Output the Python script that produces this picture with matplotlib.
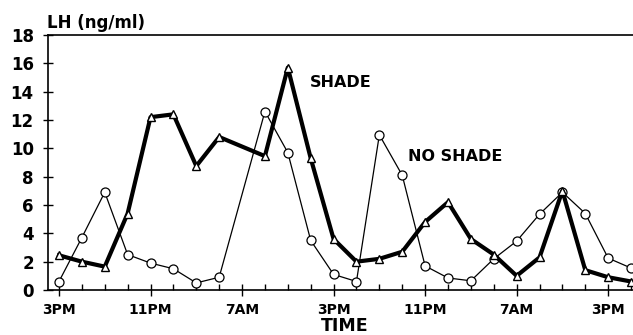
import matplotlib
matplotlib.use('Agg')
import matplotlib.pyplot as plt
from matplotlib.ticker import MultipleLocator

# hours after the first 3PM; no sample at 7AM on day 1
hours = [0, 2, 4, 6, 8, 10, 12, 14, 18, 20, 22, 24, 26, 28, 30, 32, 34,
         36, 38, 40, 42, 44, 46, 48, 50]
shade = [2.45, 2.0, 1.65, 5.4, 12.2, 12.4, 8.75, 10.8, 9.45, 15.7, 9.3,
         3.6, 2.0, 2.2, 2.7, 4.8, 6.2, 3.6, 2.5, 1.0, 2.3, 7.0, 1.4, 0.9, 0.6]
no_shade = [0.6, 3.7, 6.9, 2.5, 1.9, 1.5, 0.5, 0.9, 12.6, 9.7, 3.5,
            1.1, 0.6, 10.95, 8.1, 1.7, 0.85, 0.65, 2.2, 3.45, 5.35, 6.9, 5.4, 2.25, 1.55]
tick_hours = [0, 8, 16, 24, 32, 40, 48]
tick_labels = ['3PM', '11PM', '7AM', '3PM', '11PM', '7AM', '3PM']

plt.rcParams['font.family'] = 'DejaVu Sans'
plt.rcParams['font.weight'] = 'bold'

fig = plt.figure(figsize=(6.33, 3.35), dpi=100)
ax = fig.add_axes([48 / 633, 45 / 335, 585 / 633, 255 / 335])

ax.plot(hours, no_shade, '-o', color='black', lw=0.9, ms=6.5,
        mfc='white', mec='black', mew=0.9, zorder=2)
ax.plot(hours, shade, '-^', color='black', lw=3.0, ms=6,
        mfc='white', mec='black', mew=1.0, zorder=3)

ax.set_xlim(-0.96, 50.17)
ax.set_ylim(0, 18)
ax.set_yticks(range(0, 19, 2))
ax.set_xticks(tick_hours)
ax.set_xticklabels(tick_labels)
ax.xaxis.set_minor_locator(MultipleLocator(2))

ax.tick_params(axis='y', which='major', direction='inout', length=6.5,
               width=1.0, labelsize=12, pad=7)
ax.tick_params(axis='x', which='major', direction='inout', length=9,
               width=1.0, labelsize=10, pad=5)
ax.tick_params(axis='x', which='minor', direction='in', length=4.3, width=1.0)

ax.spines['right'].set_visible(False)
for s in ['left', 'bottom', 'top']:
    ax.spines[s].set_linewidth(1.2)

ax.text(21.9, 14.65, 'SHADE', fontsize=11.5, fontweight='bold', va='center')
ax.text(30.5, 9.42, 'NO SHADE', fontsize=11.5, fontweight='bold', va='center')

fig.text(47 / 633, 1 - 23 / 335, 'LH (ng/ml)', fontsize=12, fontweight='bold',
         va='center', ha='left')
fig.text(345 / 633, 1 - 326 / 335, 'TIME', fontsize=12.5, fontweight='bold',
         va='center', ha='center')

fig.savefig('out.png', dpi=100)
